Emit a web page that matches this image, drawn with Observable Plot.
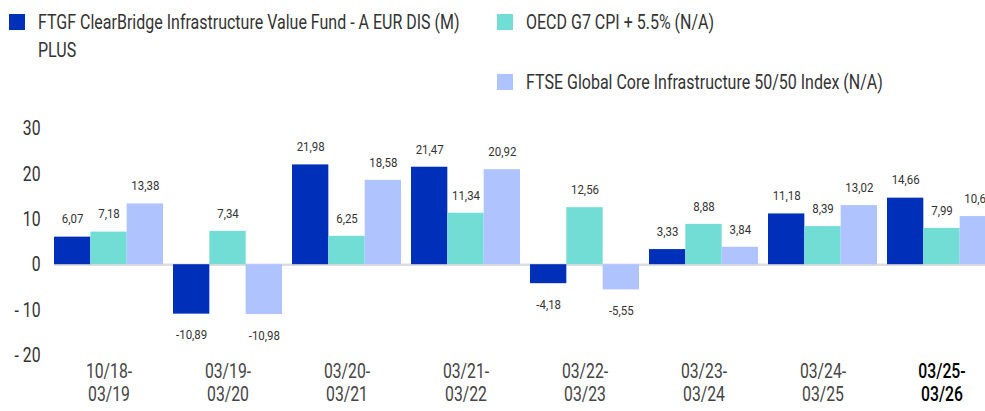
<!DOCTYPE html>
<html>
<head>
<meta charset="utf-8">
<script src="https://cdn.jsdelivr.net/npm/d3@7"></script>
<script src="https://cdn.jsdelivr.net/npm/@observablehq/plot@0.6"></script>
<style>
  html, body { margin: 0; padding: 0; background: #fff; overflow: hidden; }
  #wrap { position: relative; width: 985px; height: 411px; overflow: hidden; font-family: "Roboto", sans-serif; }
  #chart { position: absolute; left: 0; top: 0; width: 1006px; }
  #chart svg { max-width: none !important; }
  .leg { position: absolute; display: flex; align-items: flex-start; color: #333; }
  .leg .sw { width: 16px; height: 16px; flex: none; margin-top: 6px; margin-right: 13px; }
  .leg .tx { font-size: 20px; line-height: 28px; width: 540px; transform: scaleX(0.8); transform-origin: 0 0; white-space: normal; }
</style>
</head>
<body>
<div id="wrap">
  <div id="chart"></div>
  <div id="legend"></div>
</div>
<script>
const periods = ["10/18-03/19","03/19-03/20","03/20-03/21","03/21-03/22","03/22-03/23","03/23-03/24","03/24-03/25","03/25-03/26"];
const seriesNames = [
  "FTGF ClearBridge Infrastructure Value Fund - A EUR DIS (M) PLUS",
  "OECD G7 CPI + 5.5% (N/A)",
  "FTSE Global Core Infrastructure 50/50 Index (N/A)"
];
const fund = [6.07, -10.89, 21.98, 21.47, -4.18, 3.33, 11.18, 14.66];
const cpi  = [7.18, 7.34, 6.25, 11.34, 12.56, 8.88, 8.39, 7.99];
const ftse = [13.38, -10.98, 18.58, 20.92, -5.55, 3.84, 13.02, 10.60];
const yTicks = [-20, -10, 0, 10, 20, 30];
const colors = ["#0030B9", "#72DDD5", "#AEC3FF"];

const seriesValues = [fund, cpi, ftse];
const rows = seriesValues.map((vals, s) => periods.map((p, i) => ({period: p, series: seriesNames[s], value: vals[i]})));

const W = 1006, H = 411, ML = 44, MR = 0, MT = 128, MB = 56;
const pad = 0.084;
const n = periods.length;
const step = (W - ML - MR) / (n - pad + 2 * pad);
const bw = step * (1 - pad);
const third = bw / 3;

const fmt = v => v.toFixed(2).replace(".", ",");
const marks = [
  Plot.ruleY([0], {stroke: "#dddddd", strokeWidth: 2.5, insetLeft: step * pad})
];
rows.forEach((data, s) => {
  marks.push(Plot.barY(data, {
    x: "period", y: "value", fill: colors[s],
    insetLeft: s * third, insetRight: (2 - s) * third
  }));
  marks.push(Plot.text(data.filter(d => d.value >= 0), {
    x: "period", y: "value", text: d => fmt(d.value),
    dx: (s - 1) * third, dy: -18, fontSize: 13.5, fill: "#333", className: "vlab"
  }));
  marks.push(Plot.text(data.filter(d => d.value < 0), {
    x: "period", y: "value", text: d => fmt(d.value),
    dx: (s - 1) * third, dy: 21, fontSize: 13.5, fill: "#333", className: "vlab"
  }));
});
marks.push(Plot.axisY({ticks: yTicks, tickSize: 0, tickPadding: 4, fontSize: 21, fill: "#333", className: "ylab",
  tickFormat: d => d < 0 ? "- " + (-d) : String(d)}));
marks.push(Plot.axisX({tickSize: 0, tickPadding: 6, fontSize: 21, fill: "#444", lineHeight: 1.1, className: "xlab",
  tickFormat: d => d.replace("-", "-\n")}));

const chart = Plot.plot({
  width: W, height: H,
  marginLeft: ML, marginRight: MR, marginTop: MT, marginBottom: MB,
  style: {fontFamily: '"Roboto", sans-serif', background: "transparent", maxWidth: "none"},
  x: {domain: periods, padding: pad, label: null, axis: null},
  y: {domain: [-20, 30], label: null, axis: null},
  marks
});
document.getElementById("chart").appendChild(chart);

// horizontally condense text around its anchor
function condense(sel, sx) {
  d3.select(chart).selectAll(sel).each(function() {
    const t = d3.select(this);
    const tr = t.attr("transform");
    if (tr) t.attr("transform", tr + ` scale(${sx},1)`);
    else {
      const x = +t.attr("x") || 0, y = +t.attr("y") || 0;
      t.attr("transform", `translate(${x},${y}) scale(${sx},1) translate(${-x},${-y})`);
    }
  });
}
condense(".vlab text", 0.85);
condense(".ylab text", 0.75);
condense(".xlab text", 0.75);

// emphasise the latest period label
const xl = d3.select(chart).selectAll(".xlab text").nodes();
if (xl.length) d3.select(xl[xl.length - 1]).attr("fill", "#000").attr("font-weight", 500);

// legend
const legPos = [
  {left: 9, top: 8},
  {left: 497, top: 8},
  {left: 497, top: 68}
];
const legend = d3.select("#legend");
seriesNames.forEach((name, i) => {
  const item = legend.append("div").attr("class", "leg")
    .style("left", legPos[i].left + "px").style("top", legPos[i].top + "px");
  item.append("div").attr("class", "sw").style("background", colors[i]);
  item.append("div").attr("class", "tx").text(name);
});
</script>
</body>
</html>
